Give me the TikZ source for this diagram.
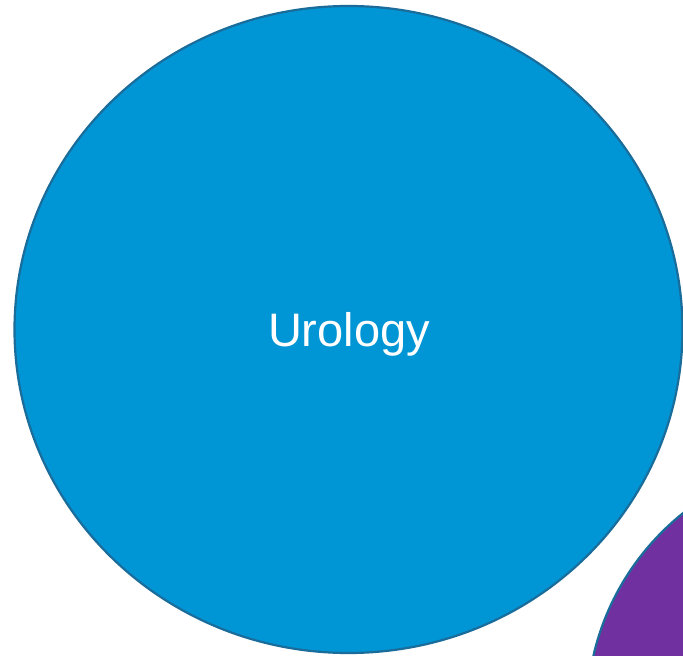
\documentclass[tikz,border=0pt]{standalone}
\usepackage{fontspec}
\setmainfont{Liberation Sans}
\definecolor{bluefill}{HTML}{0095D5}
\definecolor{rimcol}{HTML}{1A6C9A}
\definecolor{purplefill}{HTML}{7030A0}
\tikzset{bubble/.style={draw=rimcol, line width=2.2pt}}
\begin{document}
\begin{tikzpicture}[x=1pt,y=1pt]
\useasboundingbox (0,0) rectangle (683,656);
\clip (0,0) rectangle (683,656);
\path[bubble, fill=bluefill] (348.5,326.5) ellipse [x radius=334, y radius=323.5];
\node[coordinate] (uro) at (348.5,326.5) {};
\node[anchor=base, text=white, font=\fontsize{47}{50}\selectfont, inner sep=0pt] (lbl) at (349,309) {Urology};
\path[bubble, fill=purplefill] (843,-57) circle [radius=256];
\end{tikzpicture}
\end{document}
